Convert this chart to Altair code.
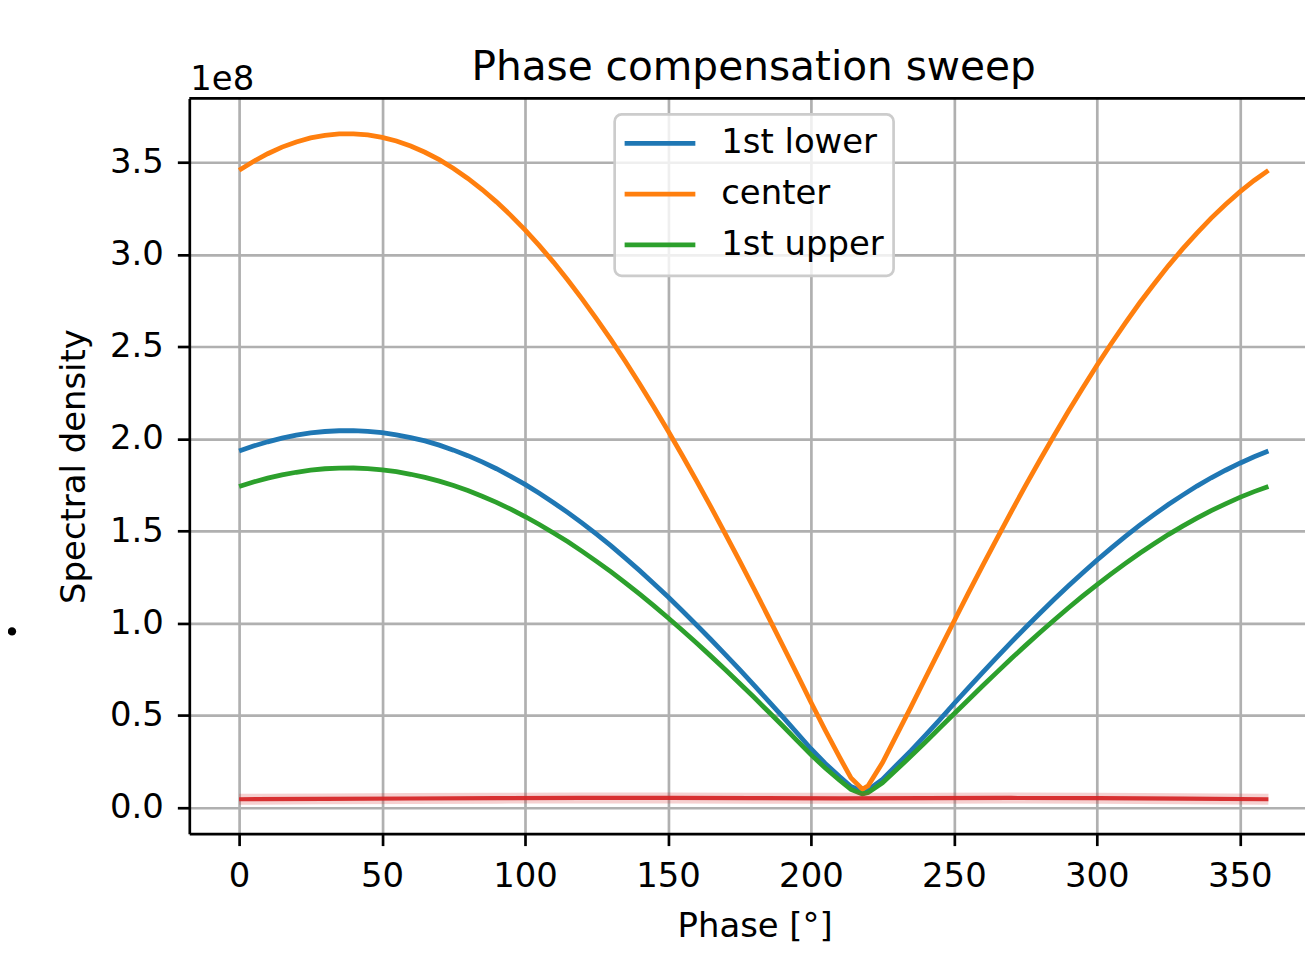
import altair as alt
import pandas as pd

# ---- data (values in units of 1e8) ----
phase = [0, 5, 10, 15, 20, 25, 30, 35, 40, 45, 50, 55, 60, 65, 70, 75, 80, 85,
         90, 95, 100, 105, 110, 115, 120, 125, 130, 135, 140, 145, 150, 155,
         160, 165, 170, 175, 180, 185, 190, 195, 200, 205, 210, 214, 218, 220,
         225, 230, 235, 240, 245, 250, 255, 260, 265, 270, 275, 280, 285, 290,
         295, 300, 305, 310, 315, 320, 325, 330, 335, 340, 345, 350, 355, 360]
lower = [1.934, 1.961, 1.984, 2.004, 2.020, 2.032, 2.040, 2.044, 2.045, 2.041,
         2.034, 2.022, 2.007, 1.989, 1.966, 1.939, 1.909, 1.875, 1.838, 1.797,
         1.753, 1.705, 1.654, 1.600, 1.543, 1.483, 1.421, 1.355, 1.287, 1.216,
         1.144, 1.068, 0.991, 0.912, 0.832, 0.750, 0.666, 0.581, 0.495, 0.408,
         0.320, 0.240, 0.169, 0.115, 0.090, 0.097, 0.154, 0.232, 0.310, 0.392,
         0.477, 0.564, 0.649, 0.733, 0.815, 0.897, 0.976, 1.053, 1.129, 1.202,
         1.273, 1.342, 1.408, 1.471, 1.532, 1.589, 1.644, 1.695, 1.744, 1.789,
         1.830, 1.868, 1.903, 1.934]
center = [3.456, 3.504, 3.546, 3.582, 3.610, 3.632, 3.646, 3.654, 3.654, 3.648,
          3.635, 3.615, 3.588, 3.554, 3.514, 3.466, 3.412, 3.352, 3.285, 3.212,
          3.133, 3.048, 2.957, 2.860, 2.758, 2.651, 2.539, 2.422, 2.300, 2.174,
          2.044, 1.910, 1.772, 1.631, 1.486, 1.340, 1.190, 1.038, 0.884, 0.729,
          0.572, 0.420, 0.274, 0.162, 0.100, 0.119, 0.244, 0.395, 0.547, 0.702,
          0.856, 1.010, 1.162, 1.311, 1.458, 1.603, 1.745, 1.883, 2.017, 2.148,
          2.275, 2.398, 2.516, 2.629, 2.738, 2.840, 2.938, 3.030, 3.116, 3.197,
          3.271, 3.339, 3.401, 3.456]
upper = [1.742, 1.766, 1.787, 1.805, 1.819, 1.830, 1.838, 1.841, 1.842, 1.839,
         1.832, 1.822, 1.808, 1.791, 1.771, 1.747, 1.720, 1.689, 1.656, 1.619,
         1.579, 1.536, 1.490, 1.442, 1.390, 1.336, 1.280, 1.221, 1.159, 1.096,
         1.030, 0.962, 0.893, 0.822, 0.749, 0.675, 0.600, 0.523, 0.446, 0.367,
         0.288, 0.215, 0.149, 0.099, 0.075, 0.082, 0.135, 0.207, 0.280, 0.355,
         0.432, 0.508, 0.584, 0.660, 0.734, 0.808, 0.879, 0.949, 1.017, 1.083,
         1.147, 1.209, 1.268, 1.325, 1.380, 1.431, 1.481, 1.527, 1.570, 1.611,
         1.648, 1.683, 1.714, 1.742]
red_phase = [0, 30, 60, 90, 120, 150, 180, 210, 240, 270, 300, 330, 360]
red_vals = [0.046, 0.048, 0.050, 0.052, 0.053, 0.053, 0.052, 0.051, 0.052,
            0.053, 0.052, 0.049, 0.046]

series_names = ["1st lower", "center", "1st upper"]
series_values = [lower, center, upper]
series_colors = ["#1f77b4", "#ff7f0e", "#2ca02c"]
red_color = "#d62728"

x_ticks = [0, 50, 100, 150, 200, 250, 300, 350]
y_ticks = [0.0, 0.5, 1.0, 1.5, 2.0, 2.5, 3.0, 3.5]

# ---- layout / style ----
W, H = 1120, 738
FONT = "DejaVu Sans"
FS = 34
LW = 4.8
GRID = "#b0b0b0"

x_scale = alt.Scale(domain=[-17.42, 372.8], nice=False, zero=False)
y_scale = alt.Scale(domain=[-0.1404, 3.8457], nice=False, zero=False)

x_axis = alt.Axis(values=x_ticks, format="d", title="Phase [°]",
                  grid=True, gridColor=GRID, gridWidth=2.7, gridOpacity=1,
                  domainColor="black", domainWidth=2.7,
                  tickColor="black", tickWidth=2.7, tickSize=12,
                  labelFont=FONT, labelFontSize=FS, labelColor="black",
                  labelPadding=14, labelFlush=False,
                  titleFont=FONT, titleFontSize=FS, titleFontWeight="normal",
                  titleColor="black", titleX=567.5, titleY=93,
                  titleBaseline="middle", titleAlign="center")
y_axis = alt.Axis(values=y_ticks, format=".1f", title="Spectral density",
                  grid=True, gridColor=GRID, gridWidth=2.7, gridOpacity=1,
                  domainColor="black", domainWidth=2.7,
                  tickColor="black", tickWidth=2.7, tickSize=12,
                  labelFont=FONT, labelFontSize=FS, labelColor="black",
                  labelPadding=14, labelFlush=False,
                  titleFont=FONT, titleFontSize=FS, titleFontWeight="normal",
                  titleColor="black", titleX=-115, titleY=H / 2,
                  titleAngle=270, titleBaseline="middle", titleAlign="center")

X = alt.X("phase:Q", scale=x_scale, axis=x_axis)
Y = alt.Y("value:Q", scale=y_scale, axis=y_axis)

layers = []
for name, vals, col in zip(series_names, series_values, series_colors):
    df = pd.DataFrame({"phase": phase, "value": vals, "series": name})
    layers.append(
        alt.Chart(df).mark_line(color=col, strokeWidth=LW).encode(x=X, y=Y)
    )

red_df = pd.DataFrame({"phase": red_phase, "value": red_vals})
layers.append(
    alt.Chart(red_df).mark_line(color=red_color, strokeWidth=11, opacity=0.22).encode(x=X, y=Y)
)
layers.append(
    alt.Chart(red_df).mark_line(color=red_color, strokeWidth=4.2, opacity=0.95).encode(x=X, y=Y)
)

one = pd.DataFrame({"k": [0]})

# top spine
layers.append(
    alt.Chart(one).mark_rule(color="black", strokeWidth=2.7).encode(
        x=alt.value(0), x2=alt.value(W), y=alt.value(0)
    )
)

# chart title
layers.append(
    alt.Chart(one).mark_text(text="Phase compensation sweep", font=FONT,
                             fontSize=40.8, align="center", baseline="alphabetic",
                             color="black").encode(
        x=alt.value(566.5), y=alt.value(-19)
    )
)

# offset text
layers.append(
    alt.Chart(one).mark_text(text="1e8", font=FONT, fontSize=FS, align="left",
                             baseline="alphabetic", color="black").encode(
        x=alt.value(1), y=alt.value(-9)
    )
)

# legend (matplotlib style)
layers.append(
    alt.Chart(one).mark_rect(fill="white", fillOpacity=0.8, stroke="#cccccc",
                             strokeWidth=2.7, cornerRadius=7).encode(
        x=alt.value(427), x2=alt.value(707), y=alt.value(16), y2=alt.value(178)
    )
)
for i, (name, col) in enumerate(zip(series_names, series_colors)):
    yy = 45 + 51 * i
    layers.append(
        alt.Chart(one).mark_rule(color=col, strokeWidth=LW).encode(
            x=alt.value(437), x2=alt.value(508), y=alt.value(yy)
        )
    )
    layers.append(
        alt.Chart(one).mark_text(text=name, font=FONT, fontSize=FS, align="left",
                                 baseline="middle", color="black").encode(
            x=alt.value(534), y=alt.value(yy)
        )
    )

# stray dot from the page at the left
layers.append(
    alt.Chart(one).mark_circle(color="black", size=70, opacity=1).encode(
        x=alt.value(-178), y=alt.value(535)
    )
)

chart = alt.layer(*layers).properties(
    width=W, height=H,
    autosize=alt.AutoSizeParams(type="none"),
    padding={"left": 182, "top": 89, "right": 0, "bottom": 116},
).configure_view(stroke=None).configure(background="white")

chart.save("out.html", embed_options={"renderer": "svg", "actions": False})
